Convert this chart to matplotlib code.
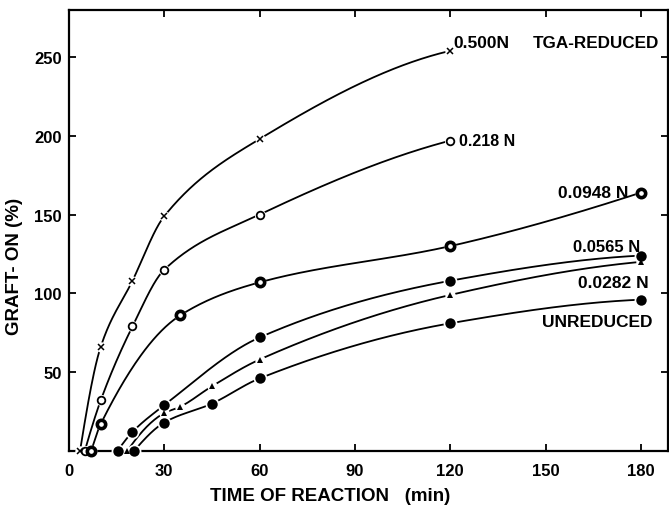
import numpy as np
import matplotlib
matplotlib.use("Agg")
import matplotlib.pyplot as plt

plt.rcParams["font.family"] = ["Liberation Sans", "DejaVu Sans"]

# grafting time course (min) and graft-on (%) for each TGA reduction level
t_500 = [3.5, 10, 20, 30, 60, 120]
g_500 = [0, 66, 108, 149, 198, 254]

t_218 = [5, 10, 20, 30, 60, 120]
g_218 = [0, 32, 79, 115, 150, 197]

t_0948 = [7, 10, 35, 60, 120, 180]
g_0948 = [0, 17, 86, 107, 130, 164]

t_0565 = [15.3, 20, 30, 60, 120, 180]
g_0565 = [0, 12, 29, 72, 108, 124]

t_0282 = [18.4, 30, 35, 45, 60, 120, 180]
g_0282 = [0, 24, 28, 41, 58, 99, 120]

t_unred = [20.5, 30, 45, 60, 120, 180]
g_unred = [0, 18, 30, 46, 81, 96]

x_ticks = [0, 30, 60, 90, 120, 150, 180]
y_ticks = [50, 100, 150, 200, 250]


def pchip(x, y, n=400):
    # monotone cubic through the points, used only to draw the smooth curve
    x = np.asarray(x, float)
    y = np.asarray(y, float)
    h = np.diff(x)
    d = np.diff(y) / h
    m = np.zeros_like(y)
    for k in range(1, len(x) - 1):
        if d[k - 1] * d[k] > 0:
            w1 = 2 * h[k] + h[k - 1]
            w2 = h[k] + 2 * h[k - 1]
            m[k] = (w1 + w2) / (w1 / d[k - 1] + w2 / d[k])
    m[0] = ((2 * h[0] + h[1]) * d[0] - h[0] * d[1]) / (h[0] + h[1])
    if m[0] * d[0] <= 0:
        m[0] = 0
    m[-1] = ((2 * h[-1] + h[-2]) * d[-1] - h[-1] * d[-2]) / (h[-1] + h[-2])
    if m[-1] * d[-1] <= 0:
        m[-1] = 0
    xs = np.linspace(x[0], x[-1], n)
    idx = np.clip(np.searchsorted(x, xs) - 1, 0, len(h) - 1)
    s = (xs - x[idx]) / h[idx]
    h00 = 2 * s**3 - 3 * s**2 + 1
    h10 = s**3 - 2 * s**2 + s
    h01 = -2 * s**3 + 3 * s**2
    h11 = s**3 - s**2
    ys = (h00 * y[idx] + h10 * h[idx] * m[idx]
          + h01 * y[idx + 1] + h11 * h[idx] * m[idx + 1])
    return xs, ys


fig = plt.figure(figsize=(6.69, 5.06), dpi=100)
ax = fig.add_axes([0.103, 0.107, 0.8955, 0.8715])

series = [
    (t_500, g_500, dict(marker="x", ms=5, mew=1.1, mfc="k", mec="k")),
    (t_218, g_218, dict(marker="o", ms=5.5, mew=1.3, mfc="white", mec="k")),
    (t_0948, g_0948, dict(marker="o", ms=6, mew=2.6, mfc="white", mec="k")),
    (t_0565, g_0565, dict(marker="o", ms=7.5, mew=0, mfc="k")),
    (t_0282, g_0282, dict(marker="^", ms=5, mew=0, mfc="k")),
    (t_unred, g_unred, dict(marker="o", ms=7.5, mew=0, mfc="k")),
]

for t, g, mk in series:
    xs, ys = pchip(t, g)
    ax.plot(xs, ys, color="k", lw=1.3, zorder=2, clip_on=False)
    # white halo leaves a small gap in the curve around each point
    ax.plot(t, g, ls="none", marker="o", ms=mk["ms"] + 2.5, mfc="white",
            mec="none", zorder=3, clip_on=False)
    ax.plot(t, g, ls="none", zorder=4, clip_on=False, **mk)

lab = dict(fontweight="bold", ha="left", va="center", zorder=5)
ax.text(121, 259, "0.500N", fontsize=12.5, **lab)
ax.text(146, 259, "TGA-REDUCED", fontsize=12.3, **lab)
ax.text(122.7, 197, "0.218 N", fontsize=11.5, **lab)
ax.text(154, 164, "0.0948 N", fontsize=12.5, **lab)
ax.text(158.7, 130, "0.0565 N", fontsize=12, **lab)
ax.text(160.3, 107, "0.0282 N", fontsize=12.5, **lab)
ax.text(148.7, 82, "UNREDUCED", fontsize=12.5, **lab)

ax.set_xlim(0.9, 188.5)
ax.set_ylim(0, 280)
ax.set_xticks(x_ticks)
ax.set_yticks(y_ticks)
ax.tick_params(direction="in", length=5, width=1.3, top=True, right=True,
               labelsize=12)
ax.tick_params(axis="y", pad=5)
ax.tick_params(axis="x", pad=9)
for lbl in ax.get_xticklabels() + ax.get_yticklabels():
    lbl.set_fontweight("bold")
for sp in ax.spines.values():
    sp.set_linewidth(1.6)

ax.set_xlabel("TIME OF REACTION   (min)", fontsize=13.5, fontweight="bold")
ax.xaxis.set_label_coords(0.436, -0.102)
ax.xaxis.label.set_va("center")
ax.set_ylabel("GRAFT- ON (%)", fontsize=13.5, fontweight="bold")
ax.yaxis.set_label_coords(-0.09, 0.42)
ax.yaxis.label.set_va("center")

fig.savefig("out.png", dpi=100)
